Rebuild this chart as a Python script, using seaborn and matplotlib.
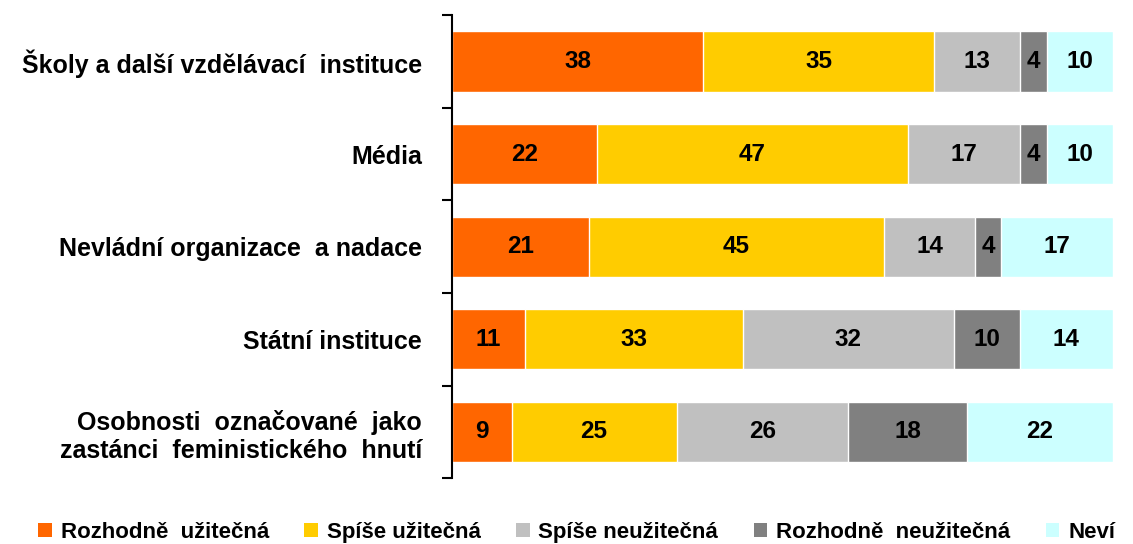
import numpy as np
import matplotlib
matplotlib.use("Agg")
import matplotlib.pyplot as plt
import seaborn as sns
from matplotlib.patches import Patch

categories = [
    "Školy a další vzdělávací  instituce",
    "Média",
    "Nevládní organizace  a nadace",
    "Státní instituce",
    "Osobnosti  označované  jako\nzastánci  feministického  hnutí",
]
series = ["Rozhodně  užitečná", "Spíše užitečná", "Spíše neužitečná",
          "Rozhodně  neužitečná", "Neví"]
rozhodne_uzitecna = [38, 22, 21, 11, 9]
spise_uzitecna = [35, 47, 45, 33, 25]
spise_neuzitecna = [13, 17, 14, 32, 26]
rozhodne_neuzitecna = [4, 4, 4, 10, 18]
nevi = [10, 10, 17, 14, 22]
colors = ["#FF6600", "#FFCC00", "#C0C0C0", "#808080", "#CCFFFF"]

sns.set_style("white")
plt.rcParams["font.family"] = ["Liberation Sans", "DejaVu Sans"]
plt.rcParams["font.weight"] = "bold"

vals = np.array([rozhodne_uzitecna, spise_uzitecna, spise_neuzitecna,
                 rozhodne_neuzitecna, nevi], dtype=float)
# bars are drawn as shares of each row's total
shares = vals / vals.sum(axis=0) * 100
cum = np.cumsum(shares, axis=0)

fig = plt.figure(figsize=(11.33, 5.44), dpi=100)
ax = fig.add_axes([0.399, 0.121, 0.583, 0.851])

# stacked bars: draw cumulative totals from the widest down
for i in range(len(series) - 1, -1, -1):
    sns.barplot(x=cum[i], y=categories, orient="h", color=colors[i],
                saturation=1, width=0.65, ax=ax)

for i in range(len(series)):
    left = cum[i] - shares[i]
    for j in range(len(categories)):
        ax.text(left[j] + shares[i][j] / 2, j, f"{int(vals[i][j])}",
                ha="center", va="center", fontsize=17.5, fontweight="bold",
                color="black")

ax.set_xlim(0, 100)
ax.set_ylim(4.5, -0.5)
ax.set_xlabel("")
ax.set_ylabel("")
ax.set_xticks([])
for s in ["top", "right", "bottom"]:
    ax.spines[s].set_visible(False)
ax.spines["left"].set_color("black")
ax.spines["left"].set_linewidth(1.5)

ax.set_yticks(range(len(categories)))
ax.set_yticklabels(categories, fontsize=18, fontweight="bold", ha="right",
                   color="black")
ax.tick_params(axis="y", which="major", left=False, pad=18)
ax.set_yticks(np.arange(-0.5, len(categories), 1), minor=True)
ax.tick_params(axis="y", which="minor", left=True, length=7, width=1.5,
               color="black", direction="out")

handles = [Patch(facecolor=c, edgecolor="none") for c in colors]
leg = fig.legend(handles, series, loc="lower center", ncol=5, frameon=False,
                 bbox_to_anchor=(0.509, -0.035), handlelength=0.6,
                 handleheight=0.6, handletextpad=0.4, columnspacing=1.6,
                 prop={"weight": "bold", "size": 16})
for t in leg.get_texts():
    t.set_color("black")

fig.savefig("out.png", dpi=100)
